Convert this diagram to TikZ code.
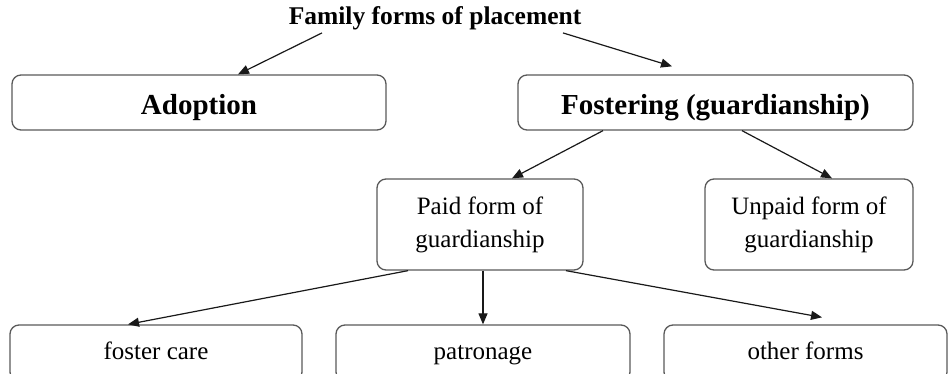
\documentclass[tikz,border=0pt]{standalone}
\usepackage{fontspec}
\setmainfont{Liberation Serif}
\usetikzlibrary{arrows.meta}
\begin{document}
\begin{tikzpicture}[x=1pt,y=-1pt,
  box/.style={draw=black!65, line width=1.3pt, rounded corners=9pt, inner sep=0pt, align=center},
  boldtxt/.style={font=\bfseries\fontsize{29}{33}\selectfont, text height=26pt, text depth=1pt},
  regtxt/.style={font=\fontsize{25}{33}\selectfont},
  onetxt/.style={font=\fontsize{25}{33}\selectfont, text height=18pt, text depth=6pt},
  arr/.style={-{Triangle[length=11pt,width=9pt]}, line width=1.2pt, draw=black!90}]
\useasboundingbox (0,0) rectangle (949,374);
\node[font=\bfseries\fontsize{25.5}{29}\selectfont, inner sep=0pt] (title) at (435,18) {Family forms of placement};
\node[box, boldtxt, minimum width=374pt, minimum height=55pt] (adopt) at (199,102.5) {Adoption};
\node[box, boldtxt, minimum width=395pt, minimum height=55pt] (fost) at (715.5,102.5) {Fostering (guardianship)};
\node[box, regtxt, minimum width=206pt, minimum height=91pt] (paid) at (480,224.5) {Paid form of\\guardianship};
\node[box, regtxt, minimum width=208pt, minimum height=91pt] (unpaid) at (809,224.5) {Unpaid form of\\guardianship};
\node[box, onetxt, minimum width=292pt, minimum height=56pt] (fc) at (156,353) {foster care};
\node[box, onetxt, minimum width=294pt, minimum height=56pt] (pat) at (483,353) {patronage};
\node[box, onetxt, minimum width=283pt, minimum height=56pt] (other) at (805.5,353) {other forms};
\draw[arr] ([xshift=-113pt,yshift=-3pt]title.south) -- ([xshift=39pt]adopt.north);
\draw[arr] ([xshift=128pt,yshift=-3pt]title.south) -- ([xshift=-43.5pt,yshift=8pt]fost.north);
\draw[arr] ([xshift=-112.5pt]fost.south) -- ([xshift=32pt]paid.north);
\draw[arr] ([xshift=26.5pt]fost.south) -- ([xshift=23pt]unpaid.north);
\draw[arr] ([xshift=-72pt]paid.south) -- ([xshift=-28pt]fc.north);
\draw[arr] (pat.north |- paid.south) -- (pat.north);
\draw[arr] ([xshift=86pt]paid.south) -- ([xshift=16.5pt,yshift=7pt]other.north);
\end{tikzpicture}
\end{document}
